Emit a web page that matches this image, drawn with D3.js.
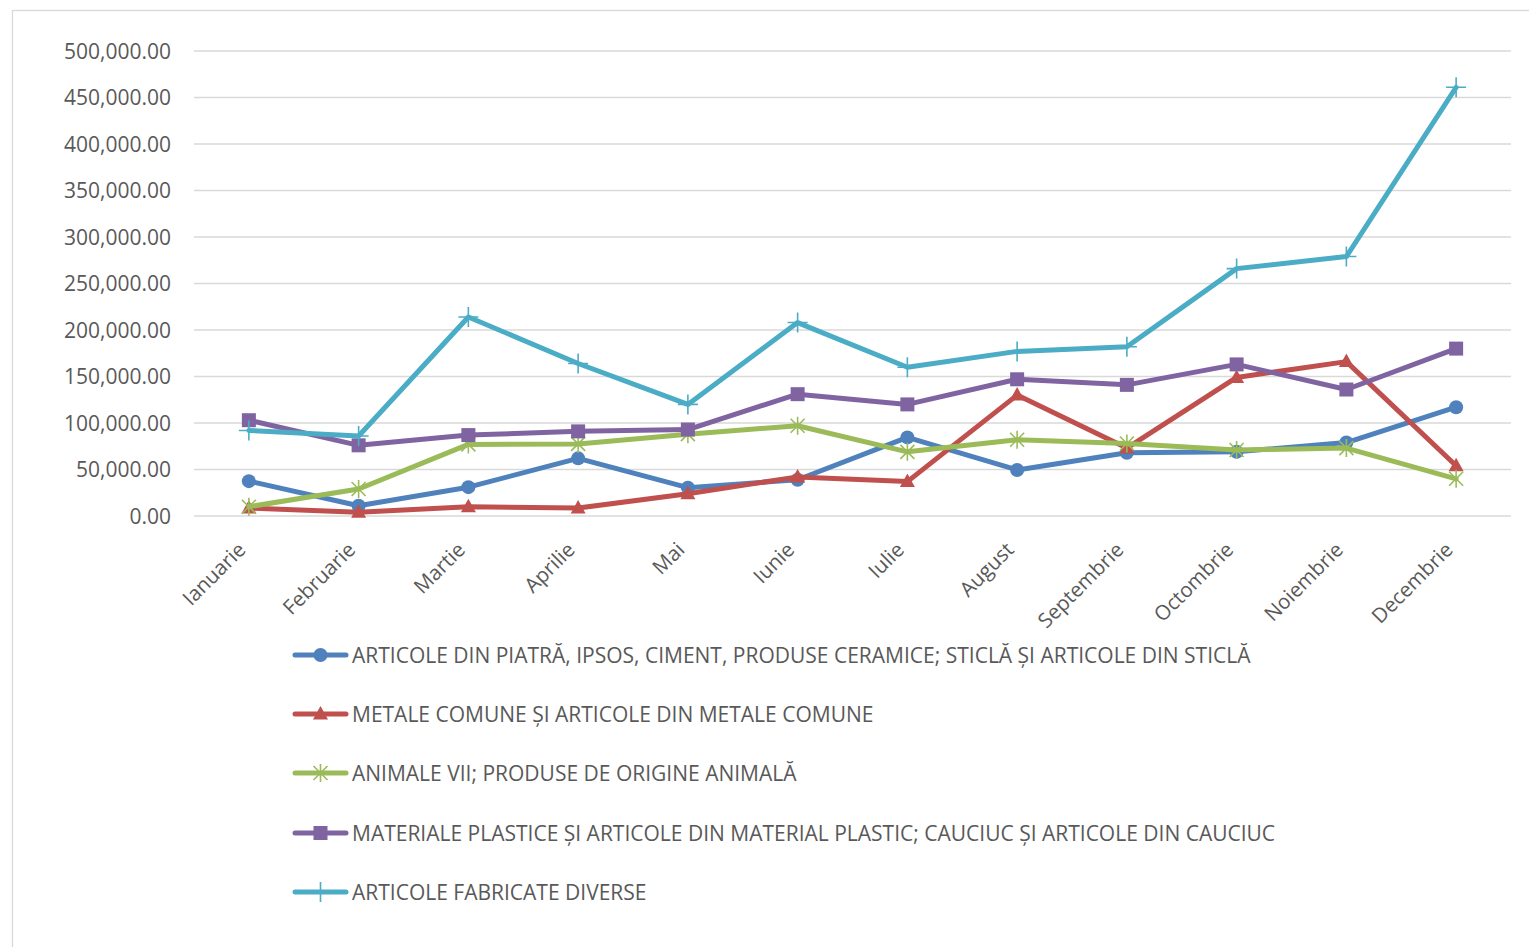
<!DOCTYPE html>
<html>
<head>
<meta charset="utf-8">
<script src="https://cdn.jsdelivr.net/npm/d3@7"></script>
<style>
  html, body { margin: 0; padding: 0; background: #fff; }
  svg { display: block; }
</style>
</head>
<body>
<svg id="chart"></svg>
<script>
// ---- data ----
const months = ["Ianuarie", "Februarie", "Martie", "Aprilie", "Mai", "Iunie",
  "Iulie", "August", "Septembrie", "Octombrie", "Noiembrie", "Decembrie"];
const seriesNames = [
  "ARTICOLE DIN PIATRĂ, IPSOS, CIMENT, PRODUSE CERAMICE; STICLĂ ȘI ARTICOLE DIN STICLĂ",
  "METALE COMUNE ȘI ARTICOLE DIN METALE COMUNE",
  "ANIMALE VII; PRODUSE DE ORIGINE ANIMALĂ",
  "MATERIALE PLASTICE ȘI ARTICOLE DIN MATERIAL PLASTIC; CAUCIUC ȘI ARTICOLE DIN CAUCIUC",
  "ARTICOLE FABRICATE DIVERSE"
];
const piatra   = [37500, 11000, 31000, 62000, 30500, 39000, 84500, 49500, 68000, 69000, 79000, 117000];
const metale   = [8500, 4000, 10000, 8500, 24000, 42000, 37000, 130000, 73000, 149000, 166000, 54000];
const animale  = [10000, 29000, 77000, 77500, 88000, 97000, 69000, 82000, 78000, 71000, 73000, 40000];
const plastice = [103000, 76000, 87000, 91000, 93000, 131000, 120000, 147000, 141000, 163000, 136000, 180000];
const diverse  = [92000, 86000, 214000, 164000, 120000, 208000, 160000, 177000, 182000, 266000, 279000, 461000];
const yTicks = [0, 50000, 100000, 150000, 200000, 250000, 300000, 350000, 400000, 450000, 500000];

const colors  = ["#4F81BD", "#C0504D", "#9BBB59", "#8064A2", "#4BACC6"];
const markers = ["circle", "triangle", "star", "square", "plus"];
const values  = [piatra, metale, animale, plastice, diverse];

// ---- layout ----
const W = 1529, H = 947;
const font = "'Open Sans', 'Liberation Sans', sans-serif";
const ink = "#595959";
const fs = 21;

const svg = d3.select("#chart").attr("width", W).attr("height", H);

// chart area border
svg.append("rect").attr("x", 12.5).attr("y", 10.5).attr("width", W + 20).attr("height", H + 20)
  .attr("fill", "#fff").attr("stroke", "#d9d9d9").attr("stroke-width", 1.3);

const x = d3.scaleBand().domain(months).range([194, 1511]);
const y = d3.scaleLinear().domain([0, 500000]).range([516, 51]);
const cx = (m) => x(m) + x.bandwidth() / 2;

// gridlines + y labels
const gy = svg.append("g");
gy.selectAll("line").data(yTicks).join("line")
  .attr("x1", 194).attr("x2", 1511)
  .attr("y1", (d) => y(d)).attr("y2", (d) => y(d))
  .attr("stroke", "#d9d9d9").attr("stroke-width", 1.5);
gy.selectAll("text").data(yTicks).join("text")
  .attr("x", 171).attr("y", (d) => y(d)).attr("dy", "0.36em")
  .attr("text-anchor", "end").attr("fill", ink)
  .attr("font-family", font).attr("font-size", fs)
  .text(d3.format(",.2f"));

// x labels
svg.append("g").selectAll("text").data(months).join("text")
  .attr("text-anchor", "end").attr("fill", ink)
  .attr("font-family", font).attr("font-size", 20.5)
  .attr("transform", (m) => `translate(${cx(m) - 2},551) rotate(-45)`)
  .text((m) => m);

// markers
function marker(g, type, color, px, py) {
  if (type === "circle") {
    g.append("circle").attr("cx", px).attr("cy", py).attr("r", 7).attr("fill", color);
  } else if (type === "triangle") {
    g.append("path").attr("d", `M${px} ${py - 8} L${px + 7.5} ${py + 5.5} L${px - 7.5} ${py + 5.5} Z`)
      .attr("fill", color);
  } else if (type === "square") {
    g.append("rect").attr("x", px - 7).attr("y", py - 7).attr("width", 14).attr("height", 14)
      .attr("fill", color);
  } else if (type === "star") {
    g.append("path")
      .attr("d", `M${px - 7} ${py - 7} L${px + 7} ${py + 7} M${px + 7} ${py - 7} L${px - 7} ${py + 7} M${px} ${py - 9} L${px} ${py + 9}`)
      .attr("stroke", color).attr("stroke-width", 1.6).attr("fill", "none");
  } else if (type === "plus") {
    g.append("path")
      .attr("d", `M${px - 10} ${py} L${px + 10} ${py} M${px} ${py - 10} L${px} ${py + 10}`)
      .attr("stroke", color).attr("stroke-width", 1.6).attr("fill", "none");
  }
}

const line = d3.line().x((d, i) => cx(months[i])).y((d) => y(d));

values.forEach((vals, s) => {
  const g = svg.append("g");
  g.append("path").datum(vals).attr("d", line)
    .attr("fill", "none").attr("stroke", colors[s]).attr("stroke-width", 5)
    .attr("stroke-linejoin", "round").attr("stroke-linecap", "round");
  vals.forEach((v, i) => marker(g, markers[s], colors[s], cx(months[i]), y(v)));
});

// legend
const legendY = [655, 714, 773, 833, 892];
seriesNames.forEach((name, s) => {
  const g = svg.append("g");
  const ly = legendY[s];
  g.append("line").attr("x1", 295).attr("x2", 346).attr("y1", ly).attr("y2", ly)
    .attr("stroke", colors[s]).attr("stroke-width", 5).attr("stroke-linecap", "round");
  marker(g, markers[s], colors[s], 320.5, ly);
  g.append("text").attr("x", 352).attr("y", ly).attr("dy", "0.36em")
    .attr("fill", ink).attr("font-family", font).attr("font-size", fs)
    .text(name);
});
</script>
</body>
</html>
